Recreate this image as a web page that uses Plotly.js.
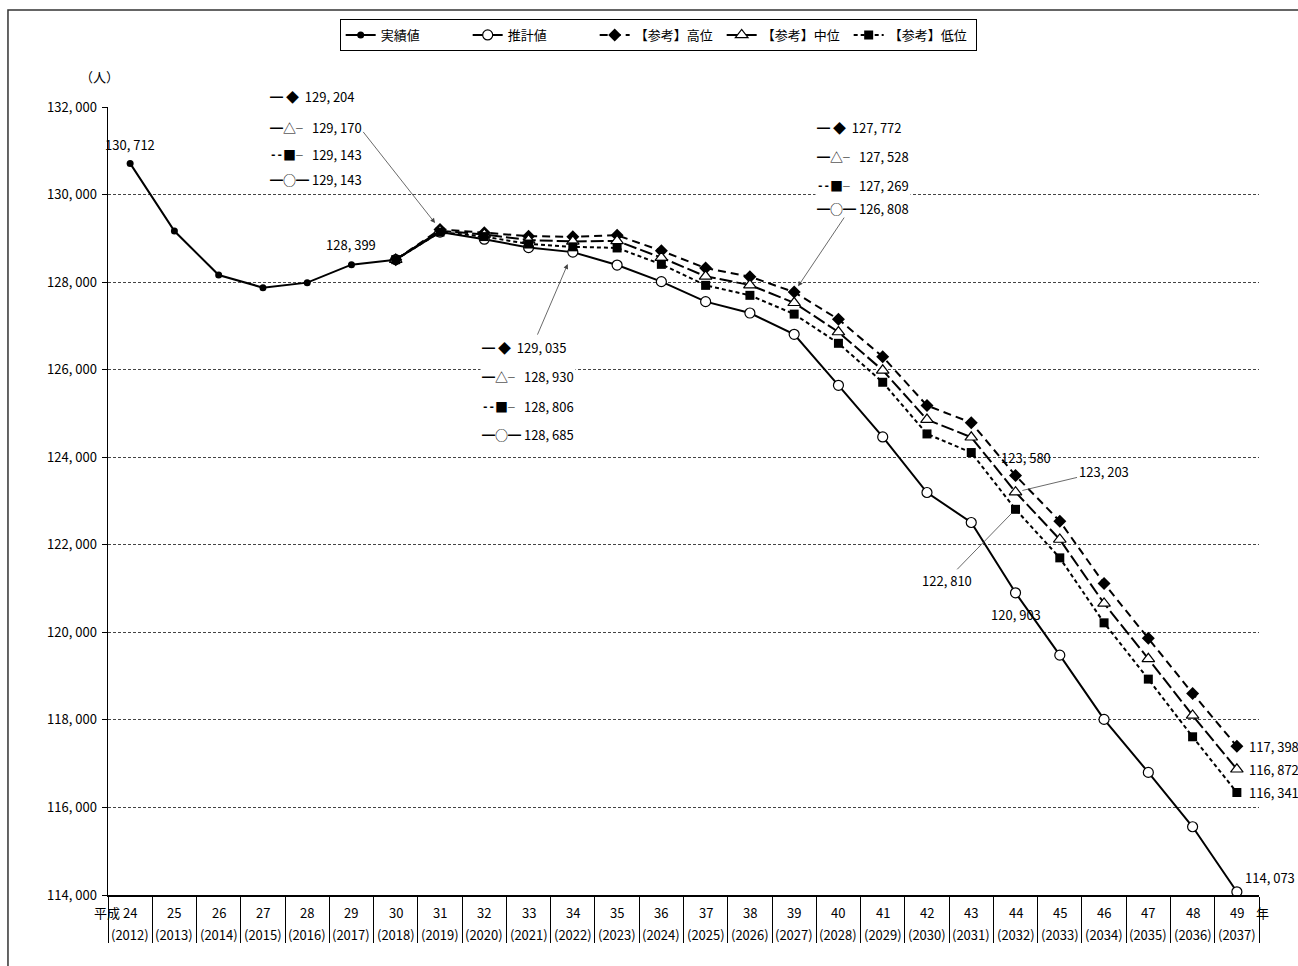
<!DOCTYPE html>
<html>
<head>
<meta charset="utf-8">
<script src="https://cdn.plot.ly/plotly-3.0.1.min.js"></script>
<style>
html,body{margin:0;padding:0;background:#fff;}
#chart{width:1298px;height:966px;}
</style>
</head>
<body>
<div id="chart"></div>
<script>
// ---- data ----
var heisei = ['24','25','26','27','28','29','30','31','32','33','34','35','36','37','38','39','40','41','42','43','44','45','46','47','48','49'];
var years = ['(2012)','(2013)','(2014)','(2015)','(2016)','(2017)','(2018)','(2019)','(2020)','(2021)','(2022)','(2023)','(2024)','(2025)','(2026)','(2027)','(2028)','(2029)','(2030)','(2031)','(2032)','(2033)','(2034)','(2035)','(2036)','(2037)'];
// 実績値: 平成24〜30
var actual = [130712, 129166, 128161, 127874, 127988, 128399, 128513];
// 推計値 / 参考値: 平成30〜49
var estimate = [128513, 129143, 128980, 128790, 128685, 128390, 128011, 127554, 127294, 126808, 125643, 124463, 123194, 122509, 120903, 119479, 118011, 116801, 115559, 114073];
var high = [128513, 129204, 129130, 129050, 129035, 129070, 128715, 128320, 128125, 127772, 127150, 126295, 125180, 124790, 123580, 122538, 121116, 119867, 118605, 117398];
var mid = [128513, 129170, 129090, 128960, 128930, 128940, 128559, 128132, 127933, 127528, 126860, 125986, 124860, 124456, 123203, 122121, 120660, 119395, 118102, 116872];
var low = [128513, 129143, 129040, 128870, 128806, 128780, 128406, 127926, 127698, 127269, 126602, 125712, 124532, 124107, 122810, 121701, 120217, 118931, 117614, 116341];
var seriesNames = ['実績値', '推計値', '【参考】高位', '【参考】中位', '【参考】低位'];
var yTickVals = [114000, 116000, 118000, 120000, 122000, 124000, 126000, 128000, 130000, 132000];
var yTickText = ['114, 000', '116, 000', '118, 000', '120, 000', '122, 000', '124, 000', '126, 000', '128, 000', '130, 000', '132, 000'];

var FONT = "'Noto Sans CJK JP', 'Noto Sans', sans-serif";
function fmt(v){ var s = String(v); return s.slice(0, s.length-3) + ', ' + s.slice(-3); }

var PROJ0 = 6; // index of 平成30 where projections start
var xActual = heisei.slice(0, actual.length);
var xProj = heisei.slice(PROJ0);
var last = xProj.length - 1;
function pi(k){ return PROJ0 + k; } // category index of projection point k

var traces = [
  {x: xActual, y: actual, name: seriesNames[0], mode: 'lines+markers', type: 'scatter',
   line: {color: '#000', width: 2}, marker: {symbol: 'circle', size: 7, color: '#000'}},
  {x: xProj, y: estimate, name: seriesNames[1], mode: 'lines+markers', type: 'scatter',
   line: {color: '#000', width: 2}, marker: {symbol: 'circle', size: 10, color: '#fff', line: {color: '#000', width: 1.2}}},
  {x: xProj, y: high, name: seriesNames[2], mode: 'lines+markers', type: 'scatter',
   line: {color: '#000', width: 2, dash: '8px,5px'}, marker: {symbol: 'diamond', size: 10, color: '#000'}},
  {x: xProj, y: mid, name: seriesNames[3], mode: 'lines+markers', type: 'scatter',
   line: {color: '#000', width: 2, dash: '13px,4px'}, marker: {symbol: 'triangle-up', size: 11, color: '#fff', line: {color: '#000', width: 1.2}}},
  {x: xProj, y: low, name: seriesNames[4], mode: 'lines+markers', type: 'scatter',
   line: {color: '#000', width: 2, dash: '4px,3px'}, marker: {symbol: 'square', size: 9, color: '#000'}}
];

var ann = [];
var fs = 13;
// x-axis labels (two rows)
for (var i = 0; i < heisei.length; i++) {
  ann.push({xref: 'x', yref: 'paper', x: i, y: -0.0216, yanchor: 'middle',
    xanchor: i === 0 ? 'right' : 'center', xshift: i === 0 ? 9 : 0,
    text: i === 0 ? '平成 ' + heisei[i] : heisei[i], showarrow: false, font: {size: 13}});
  ann.push({xref: 'x', yref: 'paper', x: i, y: -0.0495, yanchor: 'middle',
    text: years[i], showarrow: false, font: {size: 13}});
}
ann.push({xref: 'x', yref: 'paper', x: heisei.length - 1, y: -0.0216, yanchor: 'middle', xshift: 26,
  text: '年', showarrow: false, font: {size: 13}});
// y unit
ann.push({xref: 'paper', yref: 'paper', x: -0.026, y: 1.0533, text: '（人）', showarrow: false, font: {size: 13}});

// simple value labels
ann.push({x: 0, y: actual[0], text: fmt(actual[0]), showarrow: false, yshift: 19, xshift: 0, font: {size: fs}});
ann.push({x: 5, y: actual[5], text: fmt(actual[5]), showarrow: false, yshift: 20, font: {size: fs}});
ann.push({x: pi(14), y: high[14], text: fmt(high[14]), showarrow: false, yshift: 18, xshift: 10, font: {size: fs}});
ann.push({x: pi(14), y: estimate[14], text: fmt(estimate[14]), showarrow: false, yshift: -22, font: {size: fs}});
ann.push({x: pi(14), y: mid[14], text: fmt(mid[14]), showarrow: true, arrowhead: 0, arrowwidth: 0.8,
  ax: 88, ay: -21, standoff: 7, font: {size: fs}});
ann.push({x: pi(14), y: low[14], text: fmt(low[14]), showarrow: true, arrowhead: 0, arrowwidth: 0.8,
  ax: -69, ay: 71, standoff: 5, font: {size: fs}});
ann.push({x: pi(last), y: high[last], text: fmt(high[last]), showarrow: false, xanchor: 'left', xshift: 10, font: {size: fs}});
ann.push({x: pi(last), y: mid[last], text: fmt(mid[last]), showarrow: false, xanchor: 'left', xshift: 10, font: {size: fs}});
ann.push({x: pi(last), y: low[last], text: fmt(low[last]), showarrow: false, xanchor: 'left', xshift: 10, font: {size: fs}});
ann.push({x: pi(last), y: estimate[last], text: fmt(estimate[last]), showarrow: false, xanchor: 'left', xshift: 6, yshift: 14, font: {size: fs}});

// grouped labels with arrows
var keys = ['━ ◆ ', '━△╴', '╍■╴', '━○━'];
function group(xp, ys, k0) {
  var vals = [high[k0], mid[k0], low[k0], estimate[k0]];
  for (var k = 0; k < 4; k++) {
    ann.push({xref: 'paper', yref: 'paper', x: xp, y: ys[k], xanchor: 'left', yanchor: 'middle',
      text: keys[k] + ' ' + fmt(vals[k]), showarrow: false, font: {size: fs}, bgcolor: '#fff'});
  }
}
group(0.139, [1.0127, 0.9734, 0.9391, 0.9074], 1);
group(0.3232, [0.6942, 0.6574, 0.6193, 0.5838], 4);
group(0.6143, [0.9734, 0.9378, 0.9010, 0.8718], 9);
ann.push({x: pi(1), y: high[1], text: '', showarrow: true, arrowhead: 2, arrowsize: 1.2, arrowwidth: 0.8,
  ax: -78, ay: -99, standoff: 8});
ann.push({x: pi(4), y: estimate[4], text: '', showarrow: true, arrowhead: 2, arrowsize: 1.2, arrowwidth: 0.8,
  ax: -36, ay: 84, standoff: 13});
ann.push({x: pi(9), y: high[9], text: '', showarrow: true, arrowhead: 2, arrowsize: 1.2, arrowwidth: 0.8,
  ax: 51, ay: -76, standoff: 7});

var layout = {
  width: 1298, height: 966,
  margin: {l: 108, r: 39, t: 107, b: 71},
  paper_bgcolor: '#fff', plot_bgcolor: '#fff',
  font: {family: FONT, size: 13, color: '#000'},
  showlegend: true,
  legend: {orientation: 'h', x: 0.478, xanchor: 'center', y: 1.1117, yanchor: 'top',
    bordercolor: '#000', borderwidth: 1, bgcolor: '#fff', font: {size: 13}, entrywidth: 82, traceorder: 'normal'},
  xaxis: {type: 'category', categoryorder: 'array', categoryarray: heisei, range: [-0.5, 25.5],
    showticklabels: false, ticks: 'outside', tickson: 'boundaries', ticklen: 46, tickwidth: 1, tickcolor: '#000',
    showline: true, linecolor: '#000', linewidth: 1.5, showgrid: false, zeroline: false, fixedrange: true},
  yaxis: {range: [114000, 132000], tickvals: yTickVals, ticktext: yTickText,
    ticks: 'outside', ticklen: 5, tickcolor: '#000', showline: true, linecolor: '#000', linewidth: 1.5,
    showgrid: true, gridcolor: '#444', gridwidth: 1, griddash: '3px,2px', zeroline: false,
    tickfont: {size: 13}, ticklabelstandoff: 2},
  annotations: ann,
  shapes: [
    {type: 'rect', xref: 'paper', yref: 'paper', x0: -0.0869, x1: 1.3, y0: -0.3, y1: 1.1231,
      line: {color: '#333', width: 1.5}, fillcolor: 'rgba(0,0,0,0)', layer: 'below'}
  ]
};

Plotly.newPlot('chart', traces, layout, {staticPlot: true, displayModeBar: false});
</script>
</body>
</html>
